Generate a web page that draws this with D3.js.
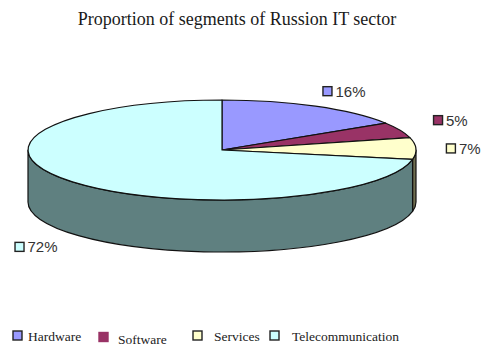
<!DOCTYPE html>
<html>
<head>
<meta charset="utf-8">
<script src="https://cdn.jsdelivr.net/npm/d3@7"></script>
<style>
  html, body { margin: 0; padding: 0; background: #fff; }
  svg { display: block; }
</style>
</head>
<body>
<svg id="chart" width="483" height="347"></svg>
<script>
// Segment shares of the Russian IT sector (percent)
const categories = ["Hardware", "Software", "Services", "Telecommunication"];
const shares = [16, 5, 7, 72];
const labels = ["16%", "5%", "7%", "72%"];
const topColors = ["#9999ff", "#993366", "#ffffcc", "#ccffff"];
const sideColors = ["#4d4d80", "#4d1a33", "#6f6e50", "#5f8080"];
const title = "Proportion of segments of Russion IT sector";

const svg = d3.select("#chart");

// 3D pie geometry: ellipse centre, radii and thickness
const cx = 222, cy = 150, rx = 194, ry = 50, depth = 52;

const pie = d3.pie().sort(null).value(d => d).startAngle(0).endAngle(2 * Math.PI);
const arcs = pie(shares);

// angle 0 = 12 o'clock, increasing clockwise
const pt = (a, dy = 0) => [cx + rx * Math.sin(a), cy - ry * Math.cos(a) + dy];

function topPath(a0, a1) {
  const p0 = pt(a0), p1 = pt(a1);
  const large = (a1 - a0) > Math.PI ? 1 : 0;
  return `M${cx},${cy}L${p0[0]},${p0[1]}A${rx},${ry} 0 ${large} 1 ${p1[0]},${p1[1]}Z`;
}

function sidePath(a0, a1) {
  const p0 = pt(a0), p1 = pt(a1), q0 = pt(a0, depth), q1 = pt(a1, depth);
  const large = (a1 - a0) > Math.PI ? 1 : 0;
  return `M${p0[0]},${p0[1]}A${rx},${ry} 0 ${large} 1 ${p1[0]},${p1[1]}` +
         `L${q1[0]},${q1[1]}A${rx},${ry} 0 ${large} 0 ${q0[0]},${q0[1]}Z`;
}

// Title
svg.append("text")
  .attr("x", 237).attr("y", 25)
  .attr("text-anchor", "middle")
  .attr("font-family", "'Liberation Serif', 'Times New Roman', serif")
  .attr("font-size", 18)
  .attr("fill", "#1a1a1a")
  .text(title);

const g = svg.append("g");

// Side walls: only the front half (angles between PI/2 and 3PI/2) is visible
const frontA = Math.PI / 2, frontB = 3 * Math.PI / 2;
arcs.forEach((d, i) => {
  const a0 = Math.max(d.startAngle, frontA), a1 = Math.min(d.endAngle, frontB);
  if (a1 > a0) {
    g.append("path")
      .attr("d", sidePath(a0, a1))
      .attr("fill", sideColors[i])
      .attr("stroke", "#111")
      .attr("stroke-width", 1.2)
      .attr("stroke-linejoin", "round");
  }
});

// Top faces
arcs.forEach((d, i) => {
  g.append("path")
    .attr("d", topPath(d.startAngle, d.endAngle))
    .attr("fill", topColors[i])
    .attr("stroke", "#111")
    .attr("stroke-width", 1.2)
    .attr("stroke-linejoin", "round");
});

// Data labels: anchored to the slice's outer rim at its mid angle
const labelNudge = [[12, -15], [38, -10], [35, 0], [-53, 13]];
arcs.forEach((d, i) => {
  const mid = (d.startAngle + d.endAngle) / 2;
  const onFront = Math.cos(mid) < 0;
  const base = pt(mid, onFront ? depth : 0);
  const x = base[0] + labelNudge[i][0], y = base[1] + labelNudge[i][1];
  const lg = svg.append("g");
  lg.append("rect")
    .attr("x", x - 4.5).attr("y", y - 4.5)
    .attr("width", 9).attr("height", 9)
    .attr("fill", topColors[i])
    .attr("stroke", "#222").attr("stroke-width", 1.4);
  lg.append("text")
    .attr("x", x + 8).attr("y", y + 5.5)
    .attr("font-family", "'Liberation Sans', Arial, sans-serif")
    .attr("font-size", 15)
    .attr("fill", "#333")
    .text(labels[i]);
});

// Legend along the bottom
const legendX = [13, 99, 193, 270];
const legendTextX = [28, 118, 214, 292];
const legendDy = [0, 3, 0, 0];
const legend = svg.append("g");
categories.forEach((c, i) => {
  legend.append("rect")
    .attr("x", legendX[i]).attr("y", 331 + legendDy[i] * 0.5)
    .attr("width", 9).attr("height", 9)
    .attr("fill", topColors[i])
    .attr("stroke", i === 1 ? topColors[i] : "#222")
    .attr("stroke-width", 1.4);
  legend.append("text")
    .attr("x", legendTextX[i]).attr("y", 341 + legendDy[i])
    .attr("font-family", "'Liberation Serif', 'Times New Roman', serif")
    .attr("font-size", 13.5)
    .attr("fill", "#222")
    .text(c);
});
</script>
</body>
</html>
